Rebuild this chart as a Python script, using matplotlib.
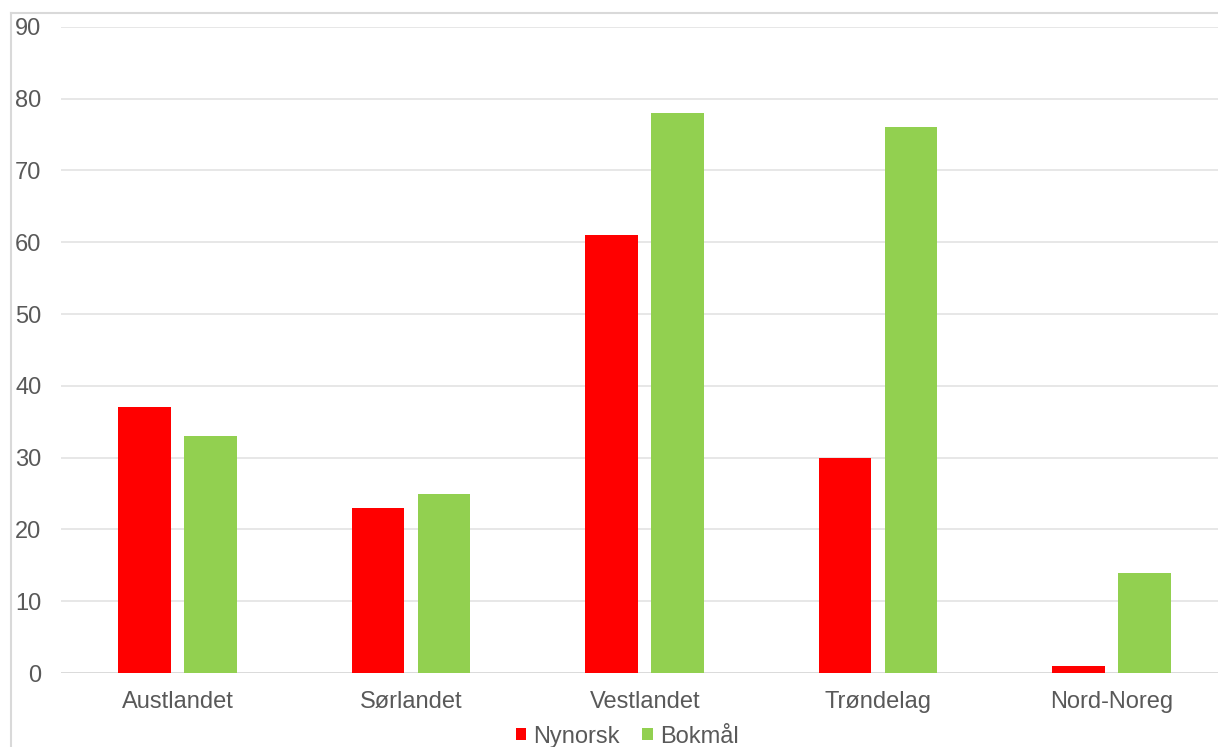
import matplotlib.pyplot as plt
import numpy as np
from matplotlib.lines import Line2D

plt.rcParams['font.family'] = ['Liberation Sans', 'DejaVu Sans']

regions = ['Austlandet', 'Sørlandet', 'Vestlandet', 'Trøndelag', 'Nord-Noreg']
nynorsk = [37, 23, 61, 30, 1]
bokmal = [33, 25, 78, 76, 14]
yticks = list(range(0, 91, 10))

text_col = '#595959'
grid_col = '#e3e3e3'

fig = plt.figure(figsize=(12.18, 7.47), dpi=100)
# plot area runs past the right edge of the picture (cut off like the original)
ax = fig.add_axes([61 / 1218, 0.099, 5 * 233.5 / 1218, 0.865])

x = np.arange(len(regions))
w = 0.225
ax.bar(x - 0.142, nynorsk, w, color='#ff0000', label='Nynorsk', zorder=3)
ax.bar(x + 0.141, bokmal, w, color='#92d050', label='Bokmål', zorder=3)

ax.set_xlim(-0.5, len(regions) - 0.5)
ax.set_ylim(0, 90)
ax.set_yticks(yticks)
ax.set_xticks(x)
ax.set_xticklabels(regions)
ax.yaxis.grid(True, color=grid_col, linewidth=1.2, zorder=0)
for s in ax.spines.values():
    s.set_visible(False)
ax.axhline(0, color='#d9d9d9', linewidth=1.2, zorder=2)
ax.tick_params(axis='both', length=0, labelsize=17, labelcolor=text_col)
ax.tick_params(axis='y', pad=14)
ax.tick_params(axis='x', pad=13)

# outer frame (chart border, partly cut off)
fig.add_artist(Line2D([11 / 1218, 11 / 1218], [0, 1 - 13 / 747],
                      color='#d9d9d9', linewidth=1.5, transform=fig.transFigure))
fig.add_artist(Line2D([11 / 1218, 1], [1 - 13 / 747, 1 - 13 / 747],
                      color='#d9d9d9', linewidth=1.5, transform=fig.transFigure))

leg = fig.legend(loc='center', bbox_to_anchor=(0.515, 0.014), ncol=2, frameon=False,
                 fontsize=17, handlelength=0.45, handleheight=0.45, handletextpad=0.3,
                 columnspacing=0.95)
for t in leg.get_texts():
    t.set_color(text_col)

fig.savefig('out.png', dpi=100)
